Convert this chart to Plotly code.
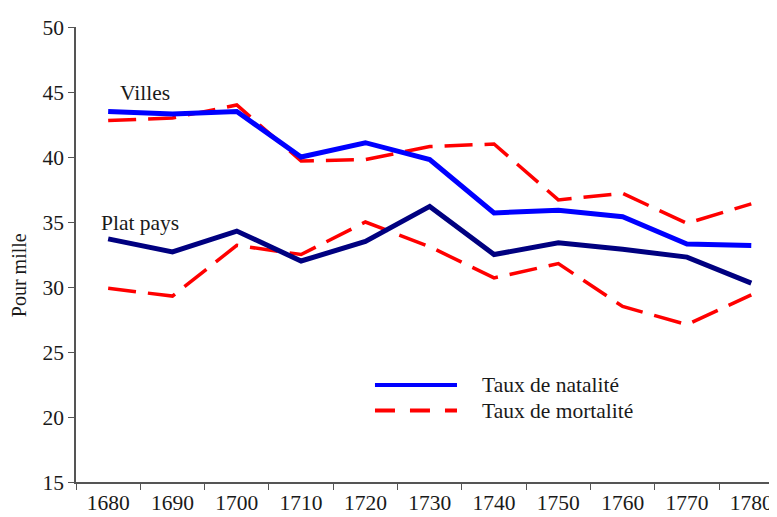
import plotly.graph_objects as go

years = ["1680", "1690", "1700", "1710", "1720", "1730", "1740", "1750", "1760", "1770", "1780"]
villes_natalite = [43.5, 43.3, 43.5, 40.0, 41.1, 39.8, 35.7, 35.9, 35.4, 33.3, 33.2]
villes_mortalite = [42.8, 43.0, 44.0, 39.7, 39.8, 40.8, 41.0, 36.7, 37.2, 34.9, 36.4]
plat_natalite = [33.7, 32.7, 34.3, 32.0, 33.5, 36.2, 32.5, 33.4, 32.9, 32.3, 30.3]
plat_mortalite = [29.9, 29.3, 33.2, 32.5, 35.0, 33.1, 30.7, 31.8, 28.5, 27.1, 29.4]
y_ticks = [15, 20, 25, 30, 35, 40, 45, 50]

FONT = "Liberation Serif, Times New Roman, serif"
TXT = "#1a1a1a"
FS = 21.5
BLUE = "#0000FF"
NAVY = "#000080"
RED = "#FF0000"
DASH = "28px,12px"

fig = go.Figure()
fig.add_trace(go.Scatter(x=years, y=villes_mortalite, mode="lines",
                         line=dict(color=RED, width=3.5, dash=DASH), showlegend=False))
fig.add_trace(go.Scatter(x=years, y=plat_mortalite, mode="lines",
                         line=dict(color=RED, width=3.5, dash=DASH), showlegend=False))
fig.add_trace(go.Scatter(x=years, y=villes_natalite, mode="lines",
                         line=dict(color=BLUE, width=5), showlegend=False))
fig.add_trace(go.Scatter(x=years, y=plat_natalite, mode="lines",
                         line=dict(color=NAVY, width=5), showlegend=False))

# legend drawn manually (long key lines as in the reference)
fig.add_shape(type="line", xref="paper", yref="paper", x0=0.4265, x1=0.5435, y0=0.213, y1=0.213,
              line=dict(color=BLUE, width=4))
fig.add_shape(type="line", xref="paper", yref="paper", x0=0.4265, x1=0.5435, y0=0.157, y1=0.157,
              line=dict(color=RED, width=4, dash="20px,15px"))
fig.add_annotation(text="Taux de natalité", xref="paper", yref="paper", x=0.576, y=0.213,
                   xanchor="left", yanchor="middle", showarrow=False,
                   font=dict(family=FONT, size=FS, color=TXT))
fig.add_annotation(text="Taux de mortalité", xref="paper", yref="paper", x=0.576, y=0.157,
                   xanchor="left", yanchor="middle", showarrow=False,
                   font=dict(family=FONT, size=FS, color=TXT))

fig.add_annotation(text="Villes", xref="paper", yref="paper", x=0.098, y=0.854,
                   xanchor="center", yanchor="middle", showarrow=False,
                   font=dict(family=FONT, size=FS, color=TXT))
fig.add_annotation(text="Plat pays", xref="paper", yref="paper", x=0.091, y=0.570,
                   xanchor="center", yanchor="middle", showarrow=False,
                   font=dict(family=FONT, size=FS, color=TXT))
fig.add_annotation(text="Pour mille", xref="paper", yref="paper", x=-0.081, y=0.455,
                   xanchor="center", yanchor="middle", showarrow=False, textangle=-90,
                   borderpad=0,
                   font=dict(family=FONT, size=20, color=TXT))

fig.update_layout(
    width=777, height=517,
    margin=dict(l=68, r=8, t=14, b=43),
    paper_bgcolor="white", plot_bgcolor="white",
    font=dict(family=FONT, size=FS, color=TXT),
    xaxis=dict(type="category", range=[-0.5, 10.4], tickson="boundaries",
               ticks="outside", ticklen=6, tickcolor="#555555",
               showline=True, linecolor="#555555", linewidth=1.5,
               showgrid=False, zeroline=False, fixedrange=True,
               tickfont=dict(family=FONT, size=FS, color=TXT)),
    yaxis=dict(range=[15, 50], tickvals=y_ticks, ticks="outside", ticklen=6,
               tickcolor="#555555", showline=True, linecolor="#555555", linewidth=1.5,
               showgrid=False, zeroline=False, fixedrange=True,
               tickfont=dict(family=FONT, size=FS, color=TXT)),
)

fig.write_html("out.html")
